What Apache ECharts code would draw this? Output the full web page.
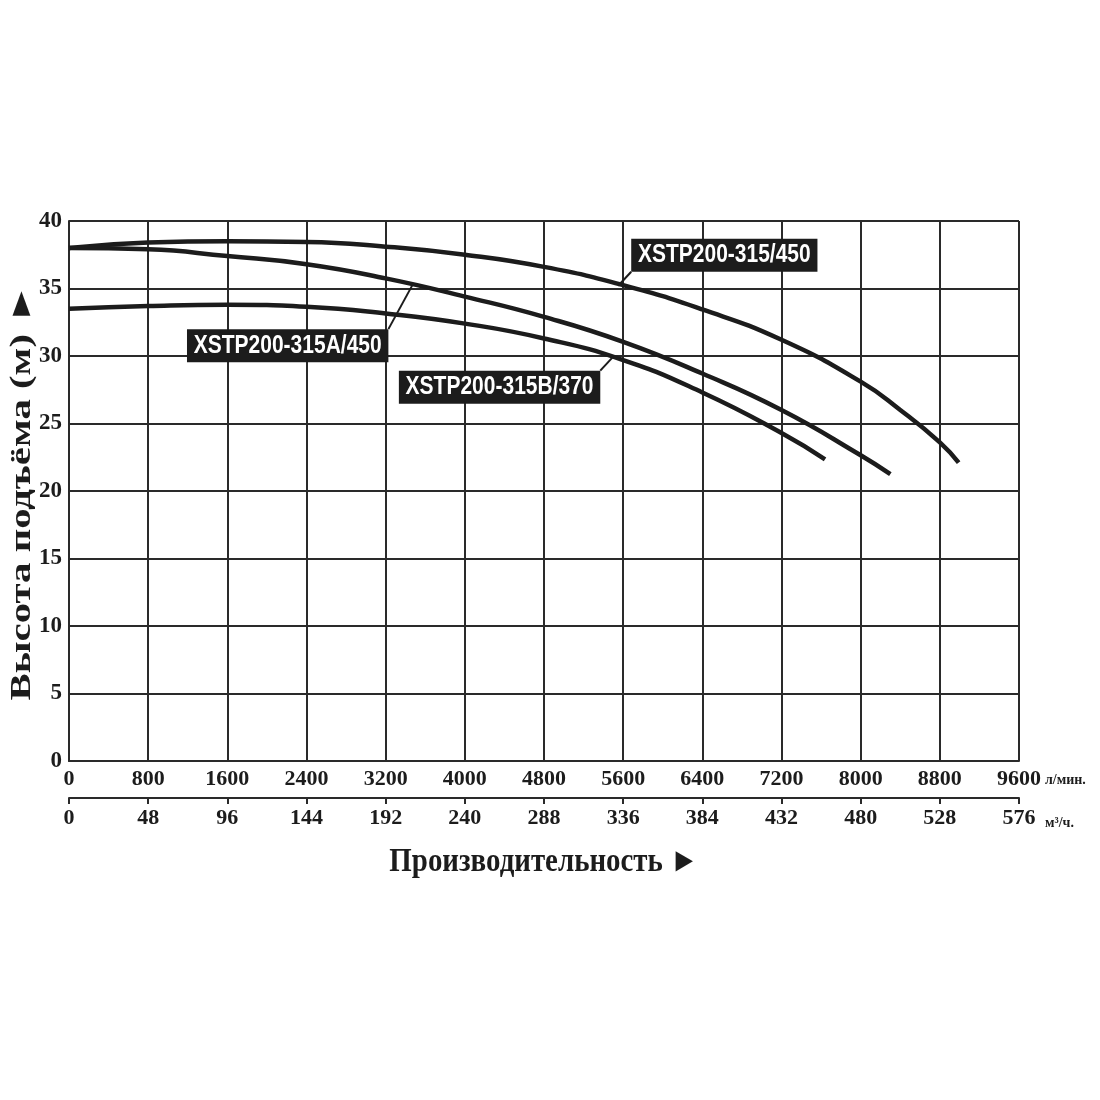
<!DOCTYPE html>
<html>
<head>
<meta charset="utf-8">
<script src="https://cdn.jsdelivr.net/npm/echarts@6.0.0/dist/echarts.min.js"></script>
<style>
    html, body { margin: 0; background: #fff; }
    #chart { width: 1100px; height: 1100px; }
</style>
</head>
<body>
<div id="chart"></div>
<script>
// расход, л/мин — и напор, м, по каждой кривой
var flow315 = [0, 800, 1600, 2400, 3200, 4000, 4800, 5600, 6400, 7200, 8000, 8400, 8800, 8990];
var head315 = [38.0, 38.4, 38.5, 38.45, 38.1, 37.5, 36.6, 35.25, 33.45, 31.2, 28.1, 26.0, 23.6, 22.1];

var flow315A = [0, 800, 1600, 2400, 3200, 4000, 4800, 5600, 6400, 7200, 8000, 8300];
var head315A = [38.0, 37.9, 37.4, 36.8, 35.75, 34.4, 32.9, 31.05, 28.7, 26.0, 22.65, 21.25];

var flow315B = [0, 800, 1600, 2400, 3200, 4000, 4800, 5600, 6400, 7200, 7640];
var head315B = [33.5, 33.7, 33.8, 33.65, 33.15, 32.4, 31.3, 29.7, 27.3, 24.3, 22.35];

// подписи кривых и точка на кривой, куда ведёт выноска
var labelNames = ['XSTP200-315/450', 'XSTP200-315A/450', 'XSTP200-315B/370'];
var labelFlow = [5550, 3470, 5500];
var labelHead = [35.2, 35.25, 29.95];

var yTitle = 'Высота подъёма (м) ►';
var xTitle = 'Производительность ►';
var unitLpm = 'л/мин.';
var unitM3h = 'м³/ч.';

var INK = '#1c1c1c';
var SERIF = '"Liberation Serif", "Times New Roman", serif';
var SANS = '"Liberation Sans", Arial, sans-serif';

function pairs(xs, ys) {
    var out = [];
    for (var i = 0; i < xs.length; i++) out.push([xs[i], ys[i]]);
    return out;
}

function curve(name, xs, ys) {
    return {
        name: name,
        type: 'line',
        xAxisIndex: 0,
        yAxisIndex: 0,
        data: pairs(xs, ys),
        smooth: 0.5,
        showSymbol: false,
        silent: true,
        lineStyle: { color: INK, width: 4.5 }
    };
}

function plain(v) { return String(v); }

var chart = echarts.init(document.getElementById('chart'));

var gridLine = { show: true, lineStyle: { color: '#2a2a2a', width: 2 } };

chart.setOption({
    animation: false,
    backgroundColor: '#fff',
    grid: { left: 69, right: 81, top: 221, bottom: 339, containLabel: false, outerBoundsMode: 'none' },
    xAxis: [{
        type: 'value',
        min: 0, max: 9600, interval: 800,
        axisLine: { show: true, onZero: false, lineStyle: { color: '#2a2a2a', width: 2 } },
        axisTick: { show: false },
        splitLine: gridLine,
        axisLabel: { margin: 7, color: INK, fontFamily: SERIF, fontWeight: 'bold', fontSize: 22, formatter: plain },
        name: unitLpm,
        nameLocation: 'end',
        nameGap: 24,
        nameTextStyle: { color: INK, fontFamily: SERIF, fontWeight: 'bold', fontSize: 14,
            verticalAlign: 'top', padding: [12, 0, 0, 0] }
    }, {
        type: 'value',
        position: 'bottom',
        offset: 37,
        min: 0, max: 576, interval: 48,
        axisLine: { show: true, onZero: false, lineStyle: { color: '#2a2a2a', width: 2 } },
        axisTick: { show: true, length: 6, inside: false, lineStyle: { color: '#2a2a2a', width: 2 } },
        splitLine: { show: false },
        axisLabel: { margin: 9, color: INK, fontFamily: SERIF, fontWeight: 'bold', fontSize: 22, formatter: plain },
        name: unitM3h,
        nameLocation: 'end',
        nameGap: 26,
        nameTextStyle: { color: INK, fontFamily: SERIF, fontWeight: 'bold', fontSize: 14,
            verticalAlign: 'top', padding: [18, 0, 0, 0] }
    }],
    yAxis: {
        type: 'value',
        min: 0, max: 40, interval: 5,
        axisLine: { show: true, lineStyle: { color: '#2a2a2a', width: 2 } },
        axisTick: { show: false },
        splitLine: gridLine,
        axisLabel: { margin: 7, color: INK, fontFamily: SERIF, fontWeight: 'bold', fontSize: 23, formatter: plain }
    },
    series: [
        curve(labelNames[0], flow315, head315),
        curve(labelNames[1], flow315A, head315A),
        curve(labelNames[2], flow315B, head315B)
    ]
});

// выноски: смещение конца выноски от точки на кривой и сторона рамки
var callout = [
    { dx: 13, dy: -14, align: 'left', vAlign: 'bottom' },
    { dx: -24, dy: 44, align: 'right', vAlign: 'top' },
    { dx: -13, dy: 14, align: 'right', vAlign: 'top' }
];

var graphics = [];
for (var i = 0; i < labelNames.length; i++) {
    var p = chart.convertToPixel({ gridIndex: 0 }, [labelFlow[i], labelHead[i]]);
    var c = callout[i];
    var ex = p[0] + c.dx, ey = p[1] + c.dy;
    graphics.push({
        type: 'line',
        shape: { x1: p[0], y1: p[1], x2: ex, y2: ey },
        style: { stroke: INK, lineWidth: 2 },
        z: 10
    });
    graphics.push({
        type: 'text',
        x: ex, y: ey,
        scaleX: 0.84,
        z: 11,
        style: {
            text: labelNames[i],
            font: 'bold 25px ' + SANS,
            fill: '#fff',
            backgroundColor: INK,
            padding: [4, 8, 4, 8],
            align: c.align,
            verticalAlign: c.vAlign
        }
    });
}

var left = chart.convertToPixel({ xAxisIndex: 0 }, 0);
var right = chart.convertToPixel({ xAxisIndex: 0 }, 9600);
var top40 = chart.convertToPixel({ yAxisIndex: 0 }, 40);
var bottom0 = chart.convertToPixel({ yAxisIndex: 0 }, 0);

graphics.push({
    type: 'text',
    x: (left + right) / 2,
    y: 862,
    scaleX: 0.85,
    style: {
        text: xTitle,
        font: 'bold 34px ' + SERIF,
        fill: INK,
        align: 'center',
        verticalAlign: 'middle'
    }
});

// подпись оси напора, вытянутая вдоль строки как в оригинале
graphics.push({
    type: 'text',
    x: left - 47,
    y: (top40 + bottom0) / 2 + 1,
    rotation: Math.PI / 2,
    scaleX: 1.36,
    style: {
        text: yTitle,
        font: 'bold 30px ' + SERIF,
        fill: INK,
        align: 'center',
        verticalAlign: 'middle'
    }
});

chart.setOption({ graphic: graphics });
</script>
</body>
</html>
